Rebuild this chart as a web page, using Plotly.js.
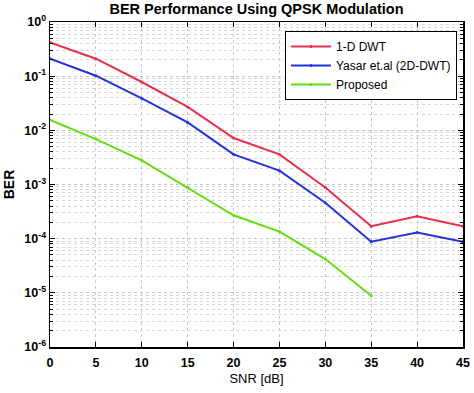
<!DOCTYPE html>
<html>
<head>
<meta charset="utf-8">
<script src="https://cdn.plot.ly/plotly-3.0.1.min.js"></script>
<style>html,body{margin:0;padding:0;background:#fff}#chart{width:474px;height:393px}</style>
</head>
<body>
<div id="chart"></div>
<script>
const snr = [0, 5, 10, 15, 20, 25, 30, 35, 40, 45];
const snrProposed = [0, 5, 10, 15, 20, 25, 30, 35];
const berDWT1D = [0.42, 0.21, 0.078, 0.027, 0.0072, 0.0036, 0.00088, 0.00017, 0.00026, 0.00017];
const berYasar = [0.21, 0.102, 0.039, 0.014, 0.0036, 0.0018, 0.00046, 0.000088, 0.00013, 0.000088];
const berProposed = [0.0155, 0.0069, 0.0028, 0.00088, 0.00027, 0.000135, 0.000042, 0.0000088];
const seriesNames = ['1-D DWT', 'Yasar et.al (2D-DWT)', 'Proposed'];
const xTicks = [0, 5, 10, 15, 20, 25, 30, 35, 40, 45];
const yTickVals = [1, 0.1, 0.01, 0.001, 0.0001, 0.00001, 0.000001];
const yTickText = ['10<sup>0</sup>', '10<sup>-1</sup>', '10<sup>-2</sup>', '10<sup>-3</sup>', '10<sup>-4</sup>', '10<sup>-5</sup>', '10<sup>-6</sup>'];

const font = 'Liberation Sans, Arial, sans-serif';
const mk = (x, y, name, color) => ({
  x: x, y: y, name: name, type: 'scatter', mode: 'lines+markers',
  line: {color: color, width: 2},
  marker: {color: color, size: 3}
});
const data = [
  mk(snr, berDWT1D, seriesNames[0], '#e8304c'),
  mk(snr, berYasar, seriesNames[1], '#2233dd'),
  mk(snrProposed, berProposed, seriesNames[2], '#66dd11')
];
const axisCommon = {
  showline: true, linecolor: '#000', linewidth: 1.5, mirror: 'allticks',
  ticks: 'inside', ticklen: 5, tickcolor: '#000', tickwidth: 1,
  showgrid: true, gridcolor: '#c8c8c8', griddash: 'dot', gridwidth: 1,
  zeroline: false,
  tickfont: {family: font, size: 12.5, color: '#000', weight: 'bold'}
};
const layout = {
  width: 474, height: 393,
  margin: {l: 50, r: 11, t: 22, b: 46},
  paper_bgcolor: '#fff', plot_bgcolor: '#fff',
  title: {text: '<b>BER Performance Using QPSK Modulation</b>', font: {family: font, size: 14.5, color: '#000'}, xref: 'paper', x: 0.5, xanchor: 'center', y: 0.977, yanchor: 'middle'},
  xaxis: Object.assign({}, axisCommon, {
    range: [0, 45], tickvals: xTicks, ticklabelstandoff: 3,
    title: {text: 'SNR [dB]', font: {family: font, size: 13, color: '#000'}, standoff: 5}
  }),
  yaxis: Object.assign({}, axisCommon, {
    type: 'log', range: [-6, 0], tickvals: yTickVals, ticktext: yTickText,
    minor: {dtick: 'D1', showgrid: true, gridcolor: '#d8d8d8', griddash: 'dot', ticks: 'inside', ticklen: 3, tickcolor: '#000'},
    title: {text: '<b>BER</b>', font: {family: font, size: 14, color: '#000'}, standoff: 6}
  }),
  legend: {
    x: 0.569, y: 0.972, xanchor: 'left', yanchor: 'top',
    bgcolor: '#fff', bordercolor: '#000', borderwidth: 1,
    font: {family: font, size: 12, color: '#000'},
    tracegroupgap: 0, itemwidth: 40
  },
  showlegend: true
};
Plotly.newPlot('chart', data, layout, {staticPlot: true, displayModeBar: false});
</script>
</body>
</html>
